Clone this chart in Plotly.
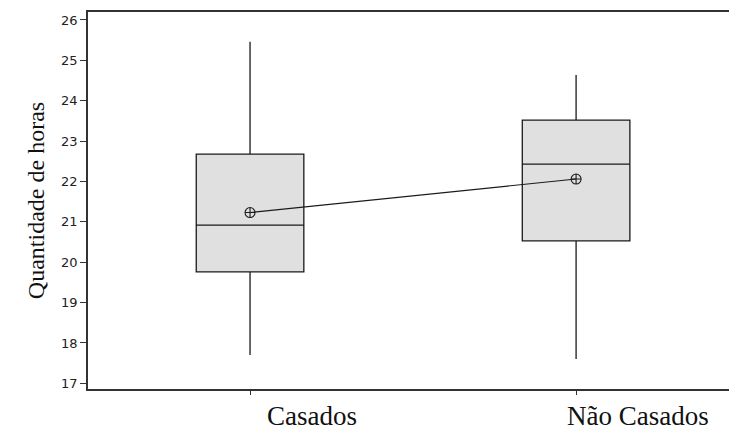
import plotly.graph_objects as go

categories = ["Casados", "Não Casados"]
q1 = [19.76, 20.53]
median = [20.92, 22.43]
q3 = [22.68, 23.52]
lower = [17.70, 17.60]
upper = [25.46, 24.64]
means = [21.23, 22.06]
yticks = list(range(17, 27))

xpos = list(range(len(categories)))

fig = go.Figure()
fig.add_trace(go.Box(
    x=xpos, q1=q1, median=median, q3=q3,
    lowerfence=lower, upperfence=upper,
    width=0.33, whiskerwidth=0,
    fillcolor="#e0e0e0",
    line=dict(color="#1a1a1a", width=1.3),
    showlegend=False, hoverinfo="skip",
))
fig.add_trace(go.Scatter(
    x=xpos, y=means, mode="lines+markers",
    line=dict(color="#1a1a1a", width=1.1),
    marker=dict(symbol="circle-cross-open", size=10, color="#1a1a1a",
                line=dict(width=1.1)),
    showlegend=False,
))

for xp, lab in zip(xpos, categories):
    fig.add_annotation(
        x=xp, xref="x", y=0, yref="paper",
        text=lab, showarrow=False,
        xanchor="center", yanchor="middle",
        xshift=62, yshift=-27,
        font=dict(family="Liberation Serif, Times New Roman, serif", size=27, color="#111111"),
    )

fig.update_layout(
    width=729, height=432,
    margin=dict(l=88, r=0, t=12, b=43),
    paper_bgcolor="white", plot_bgcolor="white",
    xaxis=dict(
        range=[-0.497, 1.469],
        tickvals=xpos, showticklabels=False,
        showgrid=False, zeroline=False, automargin=False,
        showline=True, mirror=True, linecolor="#333333", linewidth=1.5,
        ticks="outside", ticklen=4, tickcolor="#333333",
    ),
    yaxis=dict(
        range=[16.86, 26.198],
        tickvals=yticks,
        showgrid=False, zeroline=False, automargin=False,
        showline=True, linecolor="#333333", linewidth=1.5,
        ticks="outside", ticklen=6, tickcolor="#333333",
        tickfont=dict(family="DejaVu Sans, Verdana, sans-serif", size=13, color="#222222"),
        title=dict(text="Quantidade de horas",
                   font=dict(family="Liberation Serif, Times New Roman, serif", size=24, color="#111111"),
                   standoff=10),
    ),
)

fig.write_html("out.html")
